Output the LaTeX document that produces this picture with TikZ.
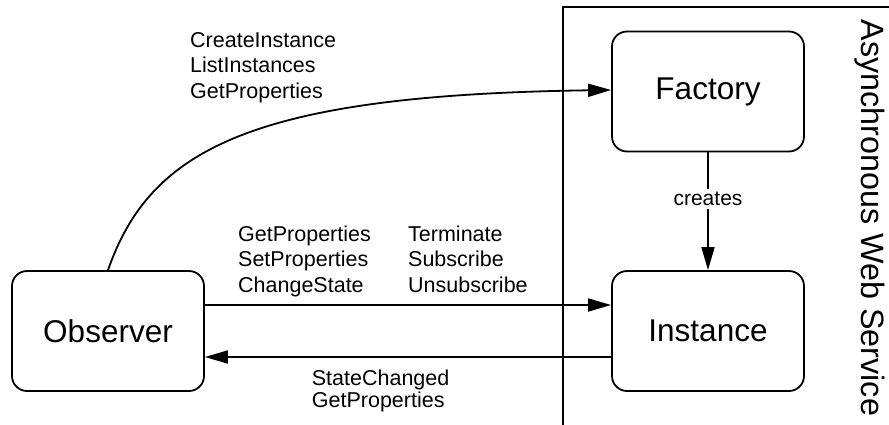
\documentclass[tikz,border=0pt]{standalone}
\usepackage{fontspec}
\setmainfont{Liberation Sans}
\usetikzlibrary{arrows.meta}
\begin{document}
\begin{tikzpicture}[x=1pt,y=-1pt,
  box/.style={draw,line width=1.8pt,rounded corners=15pt,minimum width=192pt,minimum height=120pt,inner sep=0pt,font=\fontsize{31.5}{36}\selectfont},
  arr/.style={line width=1.8pt,-{Triangle[length=23pt,width=13pt]}},
  ln/.style={line width=1.8pt},
  lab/.style={inner sep=0pt,align=left,anchor=base west},
  big/.style={font=\fontsize{21.5}{25.5}\selectfont},
  small/.style={font=\fontsize{21.5}{22}\selectfont}]
\useasboundingbox (0,0) rectangle (889,425);
% container
\coordinate (cbl) at (563,426);
\coordinate (ctl) at (563,7);
\coordinate (ctr) at (890,7);
\draw[ln] (cbl) -- (ctl) -- (ctr);
\node[rotate=-90,anchor=base,inner sep=0pt,font=\fontsize{32.3}{36}\selectfont] (aws) at (861,218) {Asynchronous Web Service};
% boxes
\node[box] (Observer) at (108,331) {Observer};
\node[box] (Factory) at (708,91.5) {Factory};
\node[box] (Instance) at (708,331) {Instance};
% connectors
\draw[arr] (Observer.north) .. controls (150,150) and (250,95) .. ([yshift=1.5pt]Factory.west);
\draw[arr] (Factory) -- node[pos=0.45,anchor=base,fill=white,inner sep=3pt,font=\fontsize{21}{24}\selectfont] (cr) {creates} (Instance);
\draw[arr] ([yshift=26pt]Observer.east) -- ([yshift=26pt]Instance.west);
\draw[arr] ([yshift=-26pt]Instance.west) -- ([yshift=-26pt]Observer.east);
% labels (anchor = baseline of last line)
\node[lab,big] (l1) at (190,98.5) {CreateInstance\\ListInstances\\GetProperties};
\node[lab,big] (l2) at (238,292) {GetProperties\\SetProperties\\ChangeState};
\node[lab,big] (l3) at (408,292) {Terminate\\Subscribe\\Unsubscribe};
\node[lab,small] (l4) at (311.7,407) {StateChanged\\GetProperties};
\end{tikzpicture}
\end{document}
